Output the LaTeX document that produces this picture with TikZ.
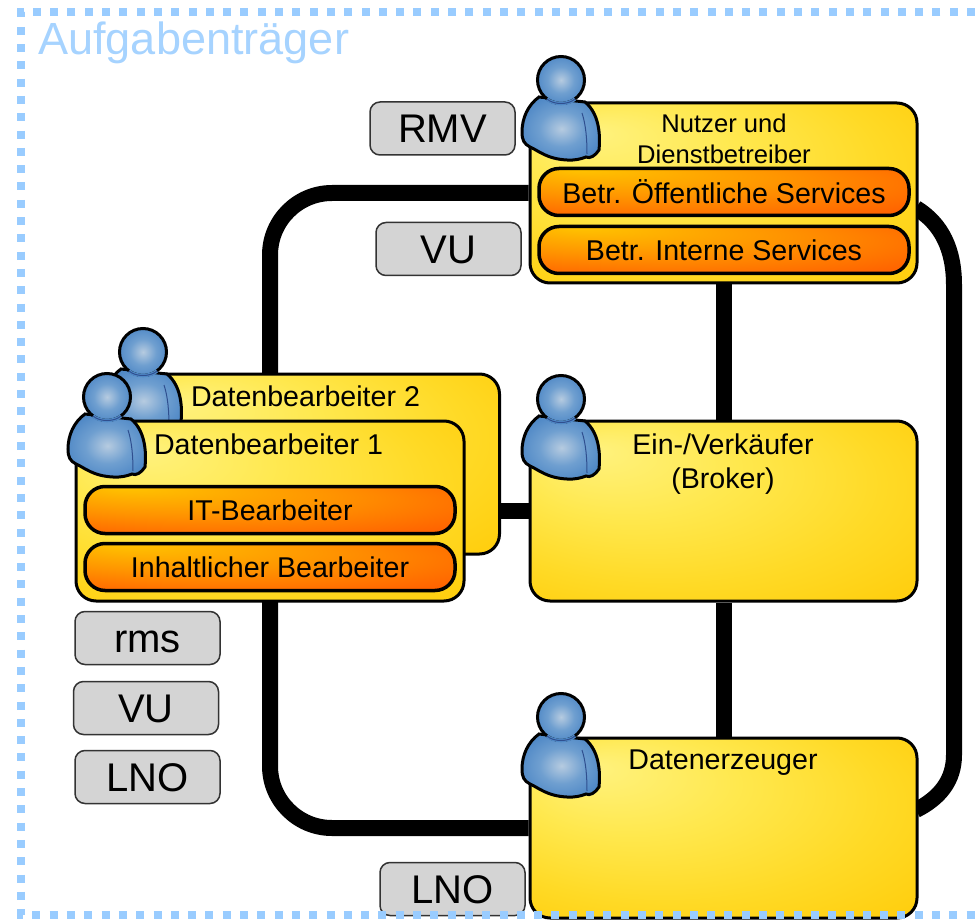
\documentclass[tikz,border=0pt]{standalone}
\usepackage{fontspec}
\setmainfont{Liberation Sans}
\usetikzlibrary{backgrounds}
\definecolor{dotblue}{HTML}{99CCFF}
\definecolor{titleblue}{HTML}{A6D3FF}
\definecolor{ya}{HTML}{FFF27E}
\definecolor{yb}{HTML}{FFE84E}
\definecolor{yc}{HTML}{FFDA26}
\definecolor{yd}{HTML}{FFCB08}
\definecolor{oa}{HTML}{FFC400}
\definecolor{ob}{HTML}{FF9400}
\definecolor{oc}{HTML}{FF6400}
\definecolor{greyfill}{HTML}{D4D4D4}
\definecolor{greyline}{HTML}{333333}
\definecolor{persona}{HTML}{B6CBE0}
\definecolor{personb}{HTML}{6F9FD0}
\definecolor{personc}{HTML}{4F88C6}
\definecolor{personline}{HTML}{2F4F8F}
\pgfdeclareradialshading{boxshade}{\pgfpoint{-17bp}{17bp}}{color(0bp)=(ya); color(14bp)=(yb); color(28bp)=(yc); color(42bp)=(yd); color(50bp)=(yd)}
\pgfdeclareradialshading{pillshade}{\pgfpoint{-20bp}{25bp}}{color(0bp)=(oa); color(20bp)=(ob); color(38bp)=(oc); color(50bp)=(oc)}
\pgfdeclareradialshading{personshade}{\pgfpoint{0bp}{0bp}}{color(0bp)=(persona); color(14bp)=(personb); color(27bp)=(personc); color(50bp)=(personc)}
\tikzset{
  x=1pt,y=-1pt,
  link/.style={line width=16pt,black},
  yellowbox/.style={draw=black,line width=3pt,rounded corners=20pt,inner sep=0pt,shading=boxshade},
  pill/.style={draw=black,line width=3.5pt,rounded corners=20pt,inner sep=0pt,shading=pillshade,font=\fontsize{28.6}{32}\selectfont},
  greybox/.style={draw=greyline,fill=greyfill,line width=1.5pt,rounded corners=10pt,inner sep=0pt,minimum width=145pt,minimum height=53pt,text height=28.6pt,text depth=0pt,font=\fontsize{40}{45}\selectfont},
  boxlabel/.style={align=center,inner sep=0pt,font=\fontsize{28.6}{34}\selectfont},
  person/.pic={
    \path[draw=black,line width=3pt,shading=personshade]
      (-22,17) .. controls (-33,25) and (-39,38) .. (-39,52)
      .. controls (-39,60) and (-37,64) .. (-31,67)
      .. controls (-22,71) and (-14,79) .. (6,80)
      .. controls (14,80.5) and (20,79) .. (25,77)
      .. controls (29,79) and (34,76) .. (38,70)
      .. controls (39,60) and (40,35) .. (24,22)
      -- cycle;
    \draw[personline,line width=1pt] (21,33) .. controls (25,45) and (26,60) .. (26,74);
    \path[draw=black,line width=3pt,shading=personshade] (0,0) circle[radius=23.5];
    \draw[personc,line width=3.4pt] (-14,19) .. controls (-7.5,25) and (7.5,25) .. (14,19);
    \draw[personline,line width=1pt] (-14,19) .. controls (-7.5,25) and (7.5,25) .. (14,19);
  }
}
\begin{document}
\begin{tikzpicture}
\useasboundingbox (0,0) rectangle (975,920);
\node[anchor=west,inner sep=0pt,text=titleblue,font=\fontsize{45.1}{50}\selectfont] (title) at (38,43) {Aufgabenträger};

% boxes
\node[yellowbox,minimum width=387pt,minimum height=180pt] (nutzer) at (723.5,193) {};
\node[yellowbox,minimum width=387pt,minimum height=180pt] (broker) at (723.5,511) {};
\node[yellowbox,minimum width=387pt,minimum height=180pt] (erzeuger) at (723.5,828) {};
\node[yellowbox,minimum width=387pt,minimum height=180pt] (db2) at (306,464) {};
\pic at (143,352) {person};
\node[yellowbox,minimum width=388pt,minimum height=180pt] (db1) at (270,511) {};
\pic at (107,397) {person};
\pic at (561,80) {person};
\pic at (561,399) {person};
\pic at (561,717) {person};

% pills
\node[pill,minimum width=370pt,minimum height=47pt] (it) at (270,510) {IT-Bearbeiter};
\node[pill,minimum width=370pt,minimum height=47pt] (inh) at (270,567) {Inhaltlicher Bearbeiter};
\node[pill,minimum width=370pt,minimum height=47pt] (oeff) at (724,192) {Betr. Öffentliche Services};
\node[pill,minimum width=370pt,minimum height=47pt] (intern) at (724,250) {Betr. Interne Services};

% labels
\node[boxlabel,font=\fontsize{25.6}{30.5}\selectfont] (lnutzer) at (724,139) {Nutzer und\\Dienstbetreiber};
\node[boxlabel] (lbroker) at (723,464) {Ein-/Verkäufer\\(Broker)};
\node[boxlabel] (lerz) at (723,763) {Datenerzeuger};
\node[boxlabel] (ldb2) at (305.5,396) {Datenbearbeiter 2};
\node[boxlabel] (ldb1) at (268.5,444) {Datenbearbeiter 1};

% grey tags
\node[greybox] (rmv) at (442.5,128.5) {RMV};
\node[greybox] (vua) at (448.5,249) {VU};
\node[greybox] (rms) at (147.5,638) {rms};
\node[greybox] (vub) at (146,708) {VU};
\node[greybox] (lnoa) at (147.5,777) {LNO};
\node[greybox] (lnob) at (452.5,889) {LNO};

% connectors
\coordinate (db2top) at (270,375);
\coordinate (db1bot) at (270,600);
\coordinate (nr) at (916,208);
\coordinate (er) at (916,810);
\begin{pgfonlayer}{background}
\draw[link,rounded corners=62pt] (nutzer.west) -| (db2top);
\draw[link,rounded corners=62pt] (db1bot) |- (erzeuger.west);
\draw[link] (nutzer.south) -- (broker.north);
\draw[link] (broker.south) -- (erzeuger.north);
\draw[link] (broker.west) -- (broker.west -| db2.east);
\draw[link] (nr) .. controls (942,224) and (954,250) .. (954,285) -- (954,755) .. controls (954,780) and (940,798) .. (er);
\end{pgfonlayer}

% frame, on top of everything
\coordinate (ftr) at (975,12);
\coordinate (ftl) at (21,12);
\coordinate (fbl) at (21,915);
\coordinate (fbr) at (975,915);
\draw[dotblue,line width=8pt,dash pattern=on 8pt off 9.3pt] (ftr) -- (ftl) -- (fbl) -- (fbr);
\end{tikzpicture}
\end{document}
